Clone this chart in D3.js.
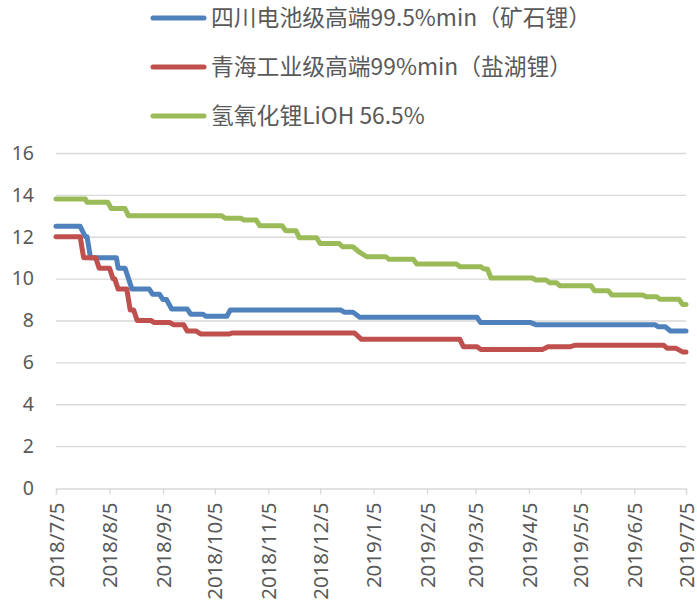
<!DOCTYPE html>
<html>
<head>
<meta charset="utf-8">
<script src="https://cdn.jsdelivr.net/npm/d3@7"></script>
<style>
  body { margin: 0; background: #fff; }
  text { fill: #595959; }
</style>
</head>
<body>
<svg id="svg"></svg>
<script>
// series values, [date, price (万元/吨)]
const sichuan = [
  ["2018-07-05", 12.5], ["2018-07-19", 12.5], ["2018-07-22", 12.0], ["2018-07-23", 12.0],
  ["2018-07-25", 11.0], ["2018-08-09", 11.0], ["2018-08-10", 10.5], ["2018-08-14", 10.5],
  ["2018-08-18", 9.5], ["2018-08-28", 9.5], ["2018-08-30", 9.25], ["2018-09-03", 9.25],
  ["2018-09-05", 9.0], ["2018-09-07", 9.0], ["2018-09-10", 8.55], ["2018-09-19", 8.55],
  ["2018-09-21", 8.3], ["2018-09-28", 8.3], ["2018-09-30", 8.2], ["2018-10-12", 8.2],
  ["2018-10-14", 8.5], ["2018-12-17", 8.5], ["2018-12-19", 8.4], ["2018-12-24", 8.4],
  ["2018-12-28", 8.15], ["2019-03-06", 8.15], ["2019-03-08", 7.9], ["2019-04-06", 7.9],
  ["2019-04-09", 7.8], ["2019-06-17", 7.8], ["2019-06-19", 7.7], ["2019-06-23", 7.7],
  ["2019-06-26", 7.5], ["2019-07-05", 7.5]
];
const qinghai = [
  ["2018-07-05", 12.0], ["2018-07-19", 12.0], ["2018-07-21", 11.0], ["2018-07-28", 11.0],
  ["2018-07-30", 10.5], ["2018-08-05", 10.5], ["2018-08-07", 10.0], ["2018-08-08", 10.0],
  ["2018-08-10", 9.5], ["2018-08-15", 9.5], ["2018-08-17", 8.5], ["2018-08-19", 8.5],
  ["2018-08-21", 8.0], ["2018-08-29", 8.0], ["2018-08-31", 7.9], ["2018-09-09", 7.9],
  ["2018-09-11", 7.8], ["2018-09-17", 7.8], ["2018-09-19", 7.5], ["2018-09-24", 7.5],
  ["2018-09-27", 7.35], ["2018-10-13", 7.35], ["2018-10-15", 7.4], ["2018-12-25", 7.4],
  ["2018-12-29", 7.1], ["2019-02-24", 7.1], ["2019-02-26", 6.75], ["2019-03-06", 6.75],
  ["2019-03-08", 6.62], ["2019-04-13", 6.62], ["2019-04-16", 6.75], ["2019-04-29", 6.75],
  ["2019-05-02", 6.82], ["2019-06-22", 6.82], ["2019-06-24", 6.68], ["2019-06-29", 6.68],
  ["2019-07-03", 6.5], ["2019-07-05", 6.5]
];
const lioh = [
  ["2018-07-05", 13.8], ["2018-07-22", 13.8], ["2018-07-23", 13.65], ["2018-08-04", 13.65],
  ["2018-08-06", 13.35], ["2018-08-14", 13.35], ["2018-08-16", 13.0], ["2018-10-09", 13.0],
  ["2018-10-11", 12.88], ["2018-10-20", 12.88], ["2018-10-22", 12.8], ["2018-10-29", 12.8],
  ["2018-10-31", 12.53], ["2018-11-13", 12.53], ["2018-11-15", 12.29], ["2018-11-21", 12.29],
  ["2018-11-23", 11.95], ["2018-12-03", 11.95], ["2018-12-05", 11.68], ["2018-12-16", 11.68],
  ["2018-12-18", 11.52], ["2018-12-24", 11.52], ["2018-12-28", 11.25], ["2019-01-01", 11.05],
  ["2019-01-12", 11.05], ["2019-01-14", 10.92], ["2019-01-28", 10.92], ["2019-01-30", 10.7],
  ["2019-02-22", 10.7], ["2019-02-24", 10.57], ["2019-03-08", 10.57], ["2019-03-10", 10.46],
  ["2019-03-12", 10.46], ["2019-03-14", 10.03], ["2019-04-07", 10.03], ["2019-04-09", 9.93],
  ["2019-04-15", 9.93], ["2019-04-17", 9.8], ["2019-04-21", 9.8], ["2019-04-23", 9.66],
  ["2019-05-11", 9.66], ["2019-05-13", 9.42], ["2019-05-21", 9.42], ["2019-05-23", 9.22],
  ["2019-06-10", 9.22], ["2019-06-12", 9.14], ["2019-06-18", 9.14], ["2019-06-20", 9.01],
  ["2019-07-01", 9.01], ["2019-07-03", 8.77], ["2019-07-05", 8.77]
];
const seriesNames = ["四川电池级高端99.5%min（矿石锂）", "青海工业级高端99%min（盐湖锂）", "氢氧化锂LiOH 56.5%"];
const seriesColors = ["#4F81BD", "#C0504D", "#9BBB59"];
const yTicks = [0, 2, 4, 6, 8, 10, 12, 14, 16];
const xTickLabels = ["2018/7/5", "2018/8/5", "2018/9/5", "2018/10/5", "2018/11/5", "2018/12/5",
  "2019/1/5", "2019/2/5", "2019/3/5", "2019/4/5", "2019/5/5", "2019/6/5", "2019/7/5"];

const width = 697, height = 612;
const margin = {top: 153, right: 11, bottom: 124, left: 56};
const parse = d3.timeParse("%Y-%m-%d");
const parseTick = d3.timeParse("%Y/%m/%d");
const fmt = d3.timeFormat("%Y/%-m/%-d");

const svg = d3.select("svg")
  .attr("width", width)
  .attr("height", height)
  .style("font-family", "'Noto Sans', sans-serif");

const x = d3.scaleTime()
  .domain([parse("2018-07-05"), parse("2019-07-05")])
  .range([margin.left, width - margin.right]);
const y = d3.scaleLinear()
  .domain([0, 16])
  .range([height - margin.bottom, margin.top]);

// gridlines
svg.append("g")
  .selectAll("line")
  .data(yTicks.filter(d => d > 0))
  .enter()
  .append("line")
  .attr("x1", x.range()[0])
  .attr("x2", x.range()[1])
  .attr("y1", d => y(d) + 0.5)
  .attr("y2", d => y(d) + 0.5)
  .attr("stroke", "#d9d9d9")
  .attr("stroke-width", 1.3);

// y axis labels
const yAxis = svg.append("g")
  .attr("transform", `translate(${margin.left},0)`)
  .call(d3.axisLeft(y).tickValues(yTicks).tickSize(0).tickPadding(22));
yAxis.select(".domain").remove();
yAxis.selectAll("text")
  .style("font-size", "19.5px")
  .style("font-family", "'Noto Sans', sans-serif")
  .attr("fill", "#595959");

// x axis
const xAxis = svg.append("g")
  .attr("transform", `translate(0,${y(0) + 0.5})`)
  .call(d3.axisBottom(x)
    .tickValues(xTickLabels.map(parseTick))
    .tickFormat(fmt)
    .tickSizeOuter(0)
    .tickSize(6));
xAxis.select(".domain").attr("stroke", "#d9d9d9").attr("stroke-width", 1.3);
xAxis.selectAll(".tick line").attr("stroke", "#d9d9d9").attr("stroke-width", 1.3);
xAxis.selectAll("text")
  .style("font-size", "20.5px")
  .style("font-family", "'Noto Sans', sans-serif")
  .attr("fill", "#595959")
  .attr("text-anchor", "end")
  .attr("transform", "rotate(-90)")
  .attr("x", -14)
  .attr("y", 0)
  .attr("dy", "0.35em");

// lines
const line = d3.line()
  .x(d => x(parse(d[0])))
  .y(d => y(d[1]));

[sichuan, qinghai, lioh].forEach((data, i) => {
  svg.append("path")
    .datum(data)
    .attr("d", line)
    .attr("fill", "none")
    .attr("stroke", seriesColors[i])
    .attr("stroke-width", 5)
    .attr("stroke-linejoin", "round")
    .attr("stroke-linecap", "round");
});

// legend
const legend = svg.append("g");
const legendY = [18, 67, 116];
seriesNames.forEach((name, i) => {
  legend.append("line")
    .attr("x1", 153).attr("x2", 204)
    .attr("y1", legendY[i]).attr("y2", legendY[i])
    .attr("stroke", seriesColors[i])
    .attr("stroke-width", 5)
    .attr("stroke-linecap", "round");
  legend.append("text")
    .attr("x", 211)
    .attr("y", legendY[i])
    .attr("dy", "0.35em")
    .style("font-size", "22.8px")
    .style("font-family", "'Noto Sans CJK SC', sans-serif")
    .text(name);
});
</script>
</body>
</html>
